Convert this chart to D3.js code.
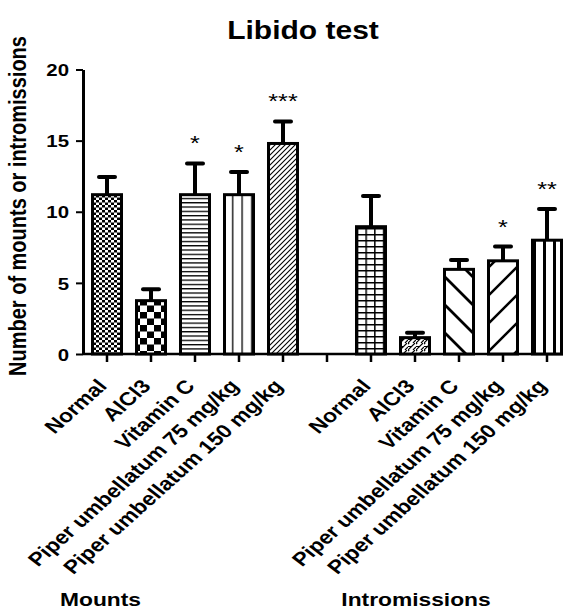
<!DOCTYPE html>
<html>
<head>
<meta charset="utf-8">
<script src="https://cdn.jsdelivr.net/npm/d3@7"></script>
<style>
  body { margin: 0; background: #fff; }
  text { font-family: "Liberation Sans", Arial, sans-serif; }
</style>
</head>
<body>
<script>
// data
var groups = ['Mounts', 'Intromissions']
var treatments = ['Normal', 'AlCl3', 'Vitamin C', 'Piper umbellatum 75 mg/kg', 'Piper umbellatum 150 mg/kg']
var mountsMean = [11.2, 3.75, 11.2, 11.2, 14.8]
var mountsSem = [1.25, 0.8, 2.2, 1.6, 1.55]
var mountsStars = ['', '', '*', '*', '***']
var introMean = [8.95, 1.15, 5.95, 6.55, 8.0]
var introSem = [2.15, 0.35, 0.65, 1.0, 2.2]
var introStars = ['', '', '', '*', '**']
var yTicks = [0, 5, 10, 15, 20]

var mountsFill = ['p-finecheck', 'p-bigcheck', 'p-hlines', 'p-vlines', 'p-finediag']
var introFill = ['p-grid', 'p-brick', 'p-bslash', 'p-slash', 'p-vthick']

var SX = 1.2  // the picture is stretched sideways

var rows = []
treatments.forEach(function(t, i) {
  rows.push({slot: 'M' + i, name: t, mean: mountsMean[i], sem: mountsSem[i], star: mountsStars[i], fill: mountsFill[i]})
})
var slots = rows.map(function(d) { return d.slot }).concat(['gap'])
treatments.forEach(function(t, i) {
  rows.push({slot: 'I' + i, name: t, mean: introMean[i], sem: introSem[i], star: introStars[i], fill: introFill[i]})
  slots.push('I' + i)
})

var svg = d3.select('body').append('svg')
  .attr('width', 563)
  .attr('height', 611)

// hatch patterns
var defs = svg.append('defs')
function pat(id, w, h, draw) {
  var p = defs.append('pattern')
    .attr('id', id)
    .attr('patternUnits', 'userSpaceOnUse')
    .attr('width', w)
    .attr('height', h)
  p.append('rect').attr('width', w).attr('height', h).attr('fill', '#fff')
  draw(p)
}
pat('p-finecheck', 6, 5, function(p) {
  p.append('rect').attr('width', 3).attr('height', 2.5)
  p.append('rect').attr('x', 3).attr('y', 2.5).attr('width', 3).attr('height', 2.5)
})
pat('p-bigcheck', 14, 13, function(p) {
  p.append('rect').attr('width', 7).attr('height', 6.5)
  p.append('rect').attr('x', 7).attr('y', 6.5).attr('width', 7).attr('height', 6.5)
})
pat('p-hlines', 4, 4.3, function(p) {
  p.append('rect').attr('width', 4).attr('height', 1.3)
})
pat('p-vlines', 9.5, 4, function(p) {
  p.append('rect').attr('x', 4).attr('width', 1.3).attr('height', 4)
})
pat('p-finediag', 5, 5, function(p) {
  p.append('path').attr('d', 'M-1,6L6,-1M-1,1L1,-1M4,6L6,4').attr('stroke', '#000').attr('stroke-width', 1.1)
})
pat('p-grid', 8.7, 6, function(p) {
  p.append('rect').attr('width', 8.7).attr('height', 1.5)
  p.append('rect').attr('width', 1.5).attr('height', 6)
})
pat('p-brick', 8, 7, function(p) {
  p.append('path').attr('d', 'M0,7L7,0M5,7L8,4M-1,2L2,-1').attr('stroke', '#000').attr('stroke-width', 1.2)
  p.append('rect').attr('y', 3).attr('width', 4).attr('height', 1)
})
pat('p-bslash', 28, 28, function(p) {
  p.append('path').attr('d', 'M-3,-3L31,31M25,-3L31,3M-3,25L3,31').attr('stroke', '#000').attr('stroke-width', 2.8)
})
pat('p-slash', 28, 28, function(p) {
  p.append('path').attr('d', 'M-3,31L31,-3M-3,3L3,-3M25,31L31,25').attr('stroke', '#000').attr('stroke-width', 2.5)
})
pat('p-vthick', 10, 4, function(p) {
  p.append('rect').attr('x', 3).attr('width', 3).attr('height', 4)
})

var x = d3.scaleBand().domain(slots).range([85, 569])
var y = d3.scaleLinear().domain([0, 20]).range([354, 69.5])
var bw = 29

// y axis
var yAxis = svg.append('g')
  .attr('transform', 'translate(83,0)')
  .call(d3.axisLeft(y).tickValues(yTicks).tickSize(7).tickSizeOuter(0))
yAxis.select('.domain').attr('stroke-width', 3)
yAxis.selectAll('.tick line').attr('stroke-width', 2)
yAxis.selectAll('.tick text')
  .attr('x', -14 / SX)
  .attr('dy', '0.36em')
  .attr('transform', 'scale(' + SX + ',1)')
  .style('font-size', '17px')
  .style('font-weight', 'bold')
  .attr('fill', '#000')

// x axis
var xAxis = svg.append('g')
  .attr('transform', 'translate(0,354)')
  .call(d3.axisBottom(x).tickSize(8).tickSizeOuter(0).tickFormat(''))
xAxis.select('.domain').remove()
xAxis.selectAll('.tick line').attr('stroke-width', 2.5)
xAxis.append('line')
  .attr('x1', 83).attr('x2', 563)
  .attr('stroke', '#000').attr('stroke-width', 2.5)

function cx(d) { return x(d.slot) + x.bandwidth() / 2 }

// error bars
var err = svg.append('g').selectAll('g')
  .data(rows)
  .enter()
  .append('g')
err.append('line')
  .attr('x1', cx).attr('x2', cx)
  .attr('y1', function(d) { return y(d.mean) })
  .attr('y2', function(d) { return y(d.mean + d.sem) })
  .attr('stroke', '#000').attr('stroke-width', 4)
err.append('line')
  .attr('x1', function(d) { return cx(d) - 8 })
  .attr('x2', function(d) { return cx(d) + 8 })
  .attr('y1', function(d) { return y(d.mean + d.sem) })
  .attr('y2', function(d) { return y(d.mean + d.sem) })
  .attr('stroke', '#000').attr('stroke-width', 4).attr('stroke-linecap', 'round')

// bars
svg.append('g').selectAll('rect')
  .data(rows)
  .enter()
  .append('rect')
  .attr('x', function(d) { return cx(d) - bw / 2 })
  .attr('y', function(d) { return y(d.mean) })
  .attr('width', bw)
  .attr('height', function(d) { return y(0) - y(d.mean) })
  .attr('fill', function(d) { return 'url(#' + d.fill + ')' })
  .attr('stroke', '#000')
  .attr('stroke-width', 3)

// significance stars
svg.append('g').selectAll('text')
  .data(rows.filter(function(d) { return d.star }))
  .enter()
  .append('text')
  .attr('transform', function(d) { return 'translate(' + cx(d) + ',' + (y(d.mean + d.sem) - 13) + ') scale(' + SX + ',1)' })
  .attr('text-anchor', 'middle')
  .style('font-size', '21px')
  .text(function(d) { return d.star })

// category labels
svg.append('g').selectAll('text')
  .data(rows)
  .enter()
  .append('text')
  .attr('transform', function(d) { return 'translate(' + (cx(d) + 1) + ',387) scale(' + SX + ',1) rotate(-47)' })
  .attr('text-anchor', 'end')
  .style('font-size', '19px')
  .style('font-weight', 'bold')
  .text(function(d) { return d.name })

// group labels
var groupX = [100.5, 416]
svg.append('g').selectAll('text')
  .data(groups)
  .enter()
  .append('text')
  .attr('transform', function(d, i) { return 'translate(' + groupX[i] + ',606) scale(' + SX + ',1)' })
  .attr('text-anchor', 'middle')
  .style('font-size', '19px')
  .style('font-weight', 'bold')
  .text(function(d) { return d })

// title
svg.append('text')
  .attr('transform', 'translate(303,39) scale(' + SX + ',1)')
  .attr('text-anchor', 'middle')
  .style('font-size', '25px')
  .style('font-weight', 'bold')
  .text('Libido test')

// y axis title
svg.append('text')
  .attr('transform', 'translate(26,206) scale(' + SX + ',1) rotate(-90)')
  .attr('text-anchor', 'middle')
  .style('font-size', '20px')
  .style('font-weight', 'bold')
  .text('Number of mounts or intromissions')
</script>
</body>
</html>
